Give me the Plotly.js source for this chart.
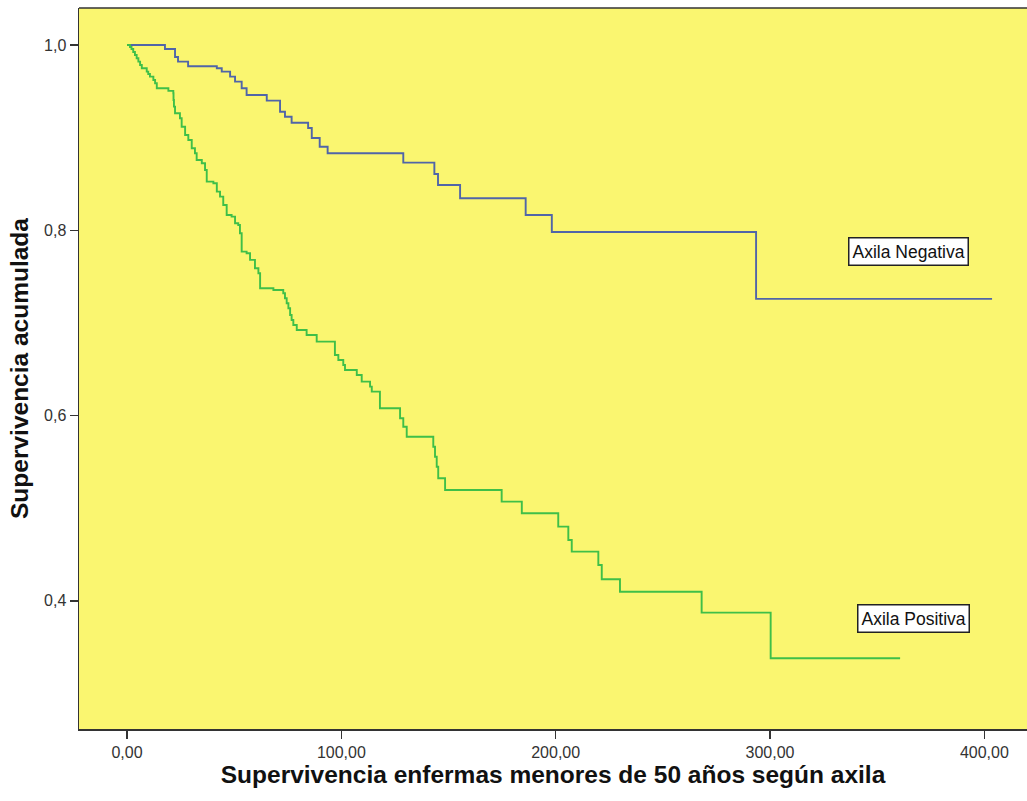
<!DOCTYPE html>
<html>
<head>
<meta charset="utf-8">
<script src="https://cdn.plot.ly/plotly-3.0.1.min.js"></script>
<style>html,body{margin:0;padding:0;background:#fff;overflow:hidden;}#chart{width:1027px;height:801px;}</style>
</head>
<body>
<div id="chart"></div>
<script>
// Axila Negativa (Kaplan-Meier steps)
const negTime = [0, 17.7, 22.4, 23.8, 28.5, 41.9, 44.2, 48.1, 50.4, 53.5, 55.8, 65.2, 71.4, 73.7, 76.8, 84.5, 86.2, 89.9, 93.6, 128.9, 143.4, 145.1, 155.4, 186.0, 198.2, 293.5, 403.6];
const negSurv = [1.0, 0.9957, 0.987, 0.982, 0.977, 0.9749, 0.9712, 0.9658, 0.9604, 0.9533, 0.946, 0.9399, 0.928, 0.9226, 0.9161, 0.9104, 0.8996, 0.8902, 0.8831, 0.873, 0.8608, 0.8489, 0.8345, 0.8165, 0.7982, 0.7259, 0.7259];

// Axila Positiva (Kaplan-Meier steps)
const posTime = [0, 1.4, 2.1, 2.9, 3.7, 4.5, 5.3, 6.1, 6.9, 9.2, 9.9, 10.7, 12.3, 13.1, 13.9, 19.3, 21.6, 21.7, 21.9, 22.4, 24.7, 25.5, 27.1, 28.6, 30.2, 31.7, 32.5, 34.9, 36.4, 37.2, 40.3, 41.9, 43.4, 44.9, 46.5, 48.8, 50.4, 51.9, 52.7, 53.5, 55.8, 57.4, 59.7, 61.3, 62.1, 68.3, 72.9, 73.7, 74.5, 75.3, 76.1, 76.8, 77.6, 79.2, 83.8, 88.5, 97.0, 98.6, 100.9, 101.7, 107.2, 109.5, 113.4, 114.2, 118.0, 127.4, 128.9, 130.5, 142.9, 143.7, 144.5, 145.2, 148.4, 174.8, 184.2, 201.2, 205.9, 207.5, 219.9, 221.5, 230.0, 268.1, 300.3, 360.7];
const posSurv = [1.0, 0.9978, 0.9957, 0.9924, 0.9892, 0.9856, 0.982, 0.9784, 0.9749, 0.9712, 0.9687, 0.9658, 0.9622, 0.9587, 0.9533, 0.9504, 0.9479, 0.9406, 0.9334, 0.9263, 0.9209, 0.9118, 0.9029, 0.8975, 0.8885, 0.8831, 0.8759, 0.8723, 0.8651, 0.8525, 0.8507, 0.8417, 0.8363, 0.8273, 0.8165, 0.8147, 0.8076, 0.8057, 0.7968, 0.7769, 0.7752, 0.768, 0.759, 0.7536, 0.7374, 0.7356, 0.732, 0.7266, 0.7212, 0.7158, 0.7086, 0.7032, 0.6978, 0.6924, 0.687, 0.6798, 0.6654, 0.66, 0.6546, 0.6492, 0.6438, 0.6366, 0.6312, 0.6258, 0.6079, 0.5971, 0.588, 0.5772, 0.5664, 0.5556, 0.5448, 0.5323, 0.5197, 0.5071, 0.4945, 0.4801, 0.4657, 0.4531, 0.4387, 0.4233, 0.4099, 0.3873, 0.3381, 0.3381];

const xTicks = [0, 100, 200, 300, 400];
const xTickText = ["0,00", "100,00", "200,00", "300,00", "400,00"];
const yTicks = [0.4, 0.6, 0.8, 1.0];
const yTickText = ["0,4", "0,6", "0,8", "1,0"];

const seriesNames = ["Axila Negativa", "Axila Positiva"];

const traces = [
  {x: negTime, y: negSurv, mode: 'lines', line: {shape: 'hv', color: '#5065a8', width: 1.9}, name: seriesNames[0], showlegend: false, hoverinfo: 'skip'},
  {x: posTime, y: posSurv, mode: 'lines', line: {shape: 'hv', color: '#3fbf48', width: 1.9}, name: seriesNames[1], showlegend: false, hoverinfo: 'skip'}
];

const titleFont = {family: 'Liberation Sans, Arial, sans-serif', size: 24.5, color: '#111111', weight: 'bold'};

const layout = {
  width: 1027, height: 801,
  margin: {l: 79, r: 0, t: 8, b: 72},
  paper_bgcolor: '#ffffff',
  plot_bgcolor: '#faf670',
  font: {family: 'Liberation Sans, Arial, sans-serif', color: '#333333', size: 16},
  xaxis: {
    range: [-22.4, 419.9], showgrid: false, zeroline: false,
    tickvals: xTicks, ticktext: xTickText, ticks: 'outside', ticklen: 8, tickwidth: 1.5, tickcolor: '#333333',
    showline: true, linecolor: '#333333', linewidth: 1.5,
    tickfont: {size: 16, color: '#333333'},
    title: {text: 'Supervivencia enfermas menores de 50 años según axila', font: titleFont, standoff: 6}
  },
  yaxis: {
    range: [0.2617, 1.0399], showgrid: false, zeroline: false,
    tickvals: yTicks, ticktext: yTickText, ticks: 'outside', ticklen: 8, tickwidth: 1.5, tickcolor: '#333333',
    showline: true, linecolor: '#333333', linewidth: 1.5,
    tickfont: {size: 16, color: '#333333'},
    title: {text: 'Supervivencia acumulada', font: titleFont, standoff: 8}
  },
  shapes: [
    {type: 'line', xref: 'paper', yref: 'paper', x0: 0, x1: 1, y0: 1, y1: 1, line: {color: '#333333', width: 1.5}}
  ],
  annotations: [
    {x: 364.5, y: 0.7768, xref: 'x', yref: 'y', text: seriesNames[0], showarrow: false, bgcolor: '#ffffff', bordercolor: '#222222', borderwidth: 1.5, borderpad: 3, font: {size: 17.5, color: '#111111'}},
    {x: 367, y: 0.3807, xref: 'x', yref: 'y', text: seriesNames[1], showarrow: false, bgcolor: '#ffffff', bordercolor: '#222222', borderwidth: 1.5, borderpad: 3, font: {size: 17.5, color: '#111111'}}
  ]
};

Plotly.newPlot('chart', traces, layout, {staticPlot: true, displayModeBar: false});
</script>
</body>
</html>
